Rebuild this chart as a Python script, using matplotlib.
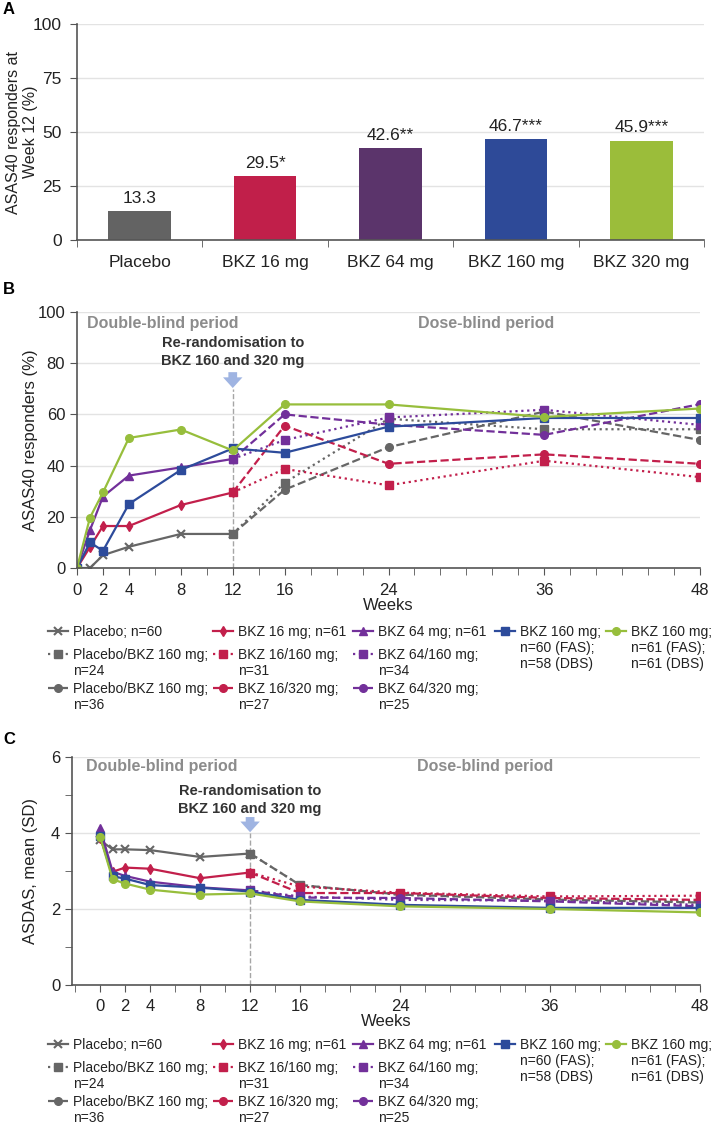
import numpy as np
import matplotlib
matplotlib.use("Agg")
from matplotlib import pyplot as plt

plt.rcParams['font.family'] = ['Liberation Sans', 'DejaVu Sans']

# ---- data ----
bar_groups = ['Placebo', 'BKZ 16 mg', 'BKZ 64 mg', 'BKZ 160 mg', 'BKZ 320 mg']
bar_values = [13.3, 29.5, 42.6, 46.7, 45.9]
bar_labels = ['13.3', '29.5*', '42.6**', '46.7***', '45.9***']

weeks_db = [0, 1, 2, 4, 8, 12]
weeks_all = [0, 1, 2, 4, 8, 12, 16, 24, 36, 48]
weeks_ext = [12, 16, 24, 36, 48]
week_ticks = [0, 2, 4, 8, 12, 16, 24, 36, 48]

# ASAS40 responders (%)
asas_pbo = [0, 0, 5.0, 8.3, 13.3, 13.3]
asas_pbo_160 = [13.3, 33.3, 58.3, 54.2, 54.2]
asas_pbo_320 = [13.3, 30.6, 47.2, 61.1, 50.0]
asas_16 = [0, 8.2, 16.4, 16.4, 24.6, 29.5]
asas_16_160 = [29.5, 38.7, 32.3, 41.9, 35.5]
asas_16_320 = [29.5, 55.6, 40.7, 44.4, 40.7]
asas_64 = [0, 14.8, 27.9, 36.1, 39.3, 42.6]
asas_64_160 = [42.6, 50.0, 58.8, 61.8, 55.9]
asas_64_320 = [42.6, 60.0, 56.0, 52.0, 64.0]
asas_160 = [0, 10.0, 6.7, 25.0, 38.3, 46.7, 45.0, 55.2, 58.6, 58.6]
asas_320 = [0, 19.7, 29.5, 50.8, 54.1, 45.9, 63.9, 63.9, 59.0, 62.3]

# ASDAS mean
asdas_pbo = [3.81, 3.57, 3.57, 3.55, 3.37, 3.46]
asdas_pbo_160 = [3.46, 2.63, 2.37, 2.27, 2.20]
asdas_pbo_320 = [3.46, 2.63, 2.38, 2.25, 2.17]
asdas_16 = [3.88, 2.98, 3.09, 3.06, 2.81, 2.96]
asdas_16_160 = [2.96, 2.59, 2.43, 2.33, 2.35]
asdas_16_320 = [2.96, 2.42, 2.42, 2.29, 2.24]
asdas_64 = [4.13, 2.98, 2.87, 2.72, 2.57, 2.49]
asdas_64_160 = [2.49, 2.33, 2.24, 2.22, 2.11]
asdas_64_320 = [2.49, 2.30, 2.29, 2.20, 2.07]
asdas_160 = [3.91, 2.86, 2.80, 2.63, 2.56, 2.46, 2.24, 2.11, 2.03, 2.03]
asdas_320 = [3.90, 2.78, 2.67, 2.51, 2.38, 2.41, 2.20, 2.07, 2.00, 1.91]

# legend entries, one list per legend column: (series key, lines of label)
legend_cols = [
    [('pbo', ['Placebo; n=60']), ('pbo160', ['Placebo/BKZ 160 mg;', 'n=24']),
     ('pbo320', ['Placebo/BKZ 160 mg;', 'n=36'])],
    [('b16', ['BKZ 16 mg; n=61']), ('b16_160', ['BKZ 16/160 mg;', 'n=31']),
     ('b16_320', ['BKZ 16/320 mg;', 'n=27'])],
    [('b64', ['BKZ 64 mg; n=61']), ('b64_160', ['BKZ 64/160 mg;', 'n=34']),
     ('b64_320', ['BKZ 64/320 mg;', 'n=25'])],
    [('b160', ['BKZ 160 mg;', 'n=60 (FAS);', 'n=58 (DBS)'])],
    [('b320', ['BKZ 160 mg;', 'n=61 (FAS);', 'n=61 (DBS)'])],
]

GRAY = '#666666'
RED = '#C21F4B'
PURPLE = '#72309A'
BLUE = '#2D4B9B'
GREEN = '#97BE3C'
bar_colors = ['#636363', '#C11F4A', '#5B346B', '#2E4A98', '#9BBD3A']
SPINE = '#555555'
GRID = '#E3E3E3'
TXT = '#222222'

W, H = 712, 1125
fig = plt.figure(figsize=(W / 100, H / 100), dpi=100)


def px_axes(left, top, right, bottom):
    return fig.add_axes([left / W, 1 - bottom / H, (right - left) / W, (bottom - top) / H])


def style_axes(ax):
    for s in ['top', 'right']:
        ax.spines[s].set_visible(False)
    for s in ['left', 'bottom']:
        ax.spines[s].set_color(SPINE)
        ax.spines[s].set_linewidth(1.2)
    ax.tick_params(which='both', direction='out', color=SPINE, labelsize=12, labelcolor=TXT)
    ax.yaxis.grid(True, color=GRID, lw=1)
    ax.set_axisbelow(True)


# ---- panel A ----
axA = px_axes(77, 24, 704, 240)
style_axes(axA)
xs = np.arange(len(bar_groups))
axA.bar(xs, bar_values, width=0.5, color=bar_colors, zorder=2)
for x, v, lab in zip(xs, bar_values, bar_labels):
    axA.text(x, v + 2.5, lab, ha='center', va='bottom', fontsize=12.5, color=TXT)
axA.set_xlim(-0.5, 4.5)
axA.set_ylim(0, 100)
axA.set_yticks([0, 25, 50, 75, 100])
axA.set_xticks(xs)
axA.set_xticklabels(bar_groups)
axA.set_xticks(np.arange(-0.5, 5, 1), minor=True)
axA.tick_params(axis='x', which='major', length=0, pad=11, labelsize=12.5)
axA.tick_params(axis='x', which='minor', length=5)
axA.tick_params(axis='y', length=5, labelsize=12.5, pad=6)
axA.set_ylabel('ASAS40 responders at\nWeek 12 (%)', fontsize=11.5, color=TXT)
axA.yaxis.set_label_coords(-0.062, 0.5)
fig.text(3 / W, 1 - 10 / H, 'A', fontsize=12, fontweight='bold', va='center')


def draw_series(ax, data):
    (pbo, pbo160, pbo320, b16, b16_160, b16_320, b64, b64_160, b64_320, b160, b320) = data
    kw = dict(lw=1.6, ms=5.5)
    h = {}
    h['pbo160'], = ax.plot(weeks_ext, pbo160, ls=':', marker='s', color=GRAY, **kw)
    h['pbo320'], = ax.plot(weeks_ext, pbo320, ls='--', marker='o', color=GRAY, **kw)
    h['b16_160'], = ax.plot(weeks_ext, b16_160, ls=':', marker='s', color=RED, **kw)
    h['b16_320'], = ax.plot(weeks_ext, b16_320, ls='--', marker='o', color=RED, **kw)
    h['b64_160'], = ax.plot(weeks_ext, b64_160, ls=':', marker='s', color=PURPLE, **kw)
    h['b64_320'], = ax.plot(weeks_ext, b64_320, ls='--', marker='o', color=PURPLE, **kw)
    h['pbo'], = ax.plot(weeks_db, pbo, ls='-', marker='x', mew=1.5, color=GRAY, lw=1.6, ms=6)
    h['b16'], = ax.plot(weeks_db, b16, ls='-', marker='d', color=RED, **kw)
    h['b64'], = ax.plot(weeks_db, b64, ls='-', marker='^', color=PURPLE, **kw)
    h['b160'], = ax.plot(weeks_all, b160, ls='-', marker='s', color=BLUE, **kw)
    h['b320'], = ax.plot(weeks_all, b320, ls='-', marker='o', color=GREEN, **kw)
    return h


def add_legend(h, base_px):
    col_x = [48, 213, 353, 495, 606]
    row_dy = [0, 23, 57]
    fs = 10
    text_off = (1.45 + 0.35) * fs * 100 / 72
    for x, col in zip(col_x, legend_cols):
        for (key, lines), dy in zip(col, row_dy):
            yc = base_px + dy
            fig.legend([h[key]], [lines[0]], loc='center left',
                       bbox_to_anchor=(x / W, 1 - yc / H), frameon=False, fontsize=fs,
                       handlelength=1.45, handletextpad=0.35, borderpad=0,
                       borderaxespad=0, labelcolor=TXT)
            for k, extra in enumerate(lines[1:], 1):
                fig.text((x + text_off) / W, 1 - (yc + 16 * k) / H, extra,
                         fontsize=fs, color=TXT, va='center', ha='left')


def period_text(ax, x_db, x_dose, y_top, x_rr, y_rr):
    ax.text(x_db, y_top, 'Double-blind period', color='#8C8C8C', fontweight='bold',
            fontsize=11.5, va='center', ha='left')
    ax.text(x_dose, y_top, 'Dose-blind period', color='#8C8C8C', fontweight='bold',
            fontsize=11.5, va='center', ha='center')
    ax.text(x_rr, y_rr, 'Re-randomisation to\nBKZ 160 and 320 mg', color='#333333',
            fontweight='bold', fontsize=10.5, va='center', ha='center', linespacing=1.35)


arrow_style = 'simple,head_width=1.0,head_length=0.55,tail_width=0.45'

# ---- panel B ----
axB = px_axes(77, 312, 700, 568)
style_axes(axB)
hB = draw_series(axB, (asas_pbo, asas_pbo_160, asas_pbo_320, asas_16, asas_16_160, asas_16_320,
                       asas_64, asas_64_160, asas_64_320, asas_160, asas_320))
axB.set_xlim(0, 48)
axB.set_ylim(0, 100)
axB.set_yticks(range(0, 101, 20))
axB.set_xticks(week_ticks)
axB.set_xticks(range(0, 49, 2), minor=True)
axB.tick_params(axis='x', which='both', length=5, pad=6)
axB.tick_params(axis='y', length=5)
axB.axvline(12, ymax=0.70, ls='--', color='#A6A6A6', lw=1, zorder=1)
axB.annotate('', xy=(12, 70.3), xytext=(12, 76.5),
             arrowprops=dict(arrowstyle=arrow_style, fc='#9FB4E2', ec='none',
                             mutation_scale=14, shrinkA=0, shrinkB=0))
period_text(axB, 0.8, 31.5, 95.7, 12.0, 84.4)
axB.set_xlabel('Weeks', fontsize=12, labelpad=0, color=TXT)
axB.set_ylabel('ASAS40 responders (%)', fontsize=12, color=TXT)
axB.yaxis.set_label_coords(-0.062, 0.5)
fig.text(3 / W, 1 - 289 / H, 'B', fontsize=12, fontweight='bold', va='center')
add_legend(hB, 632)

# ---- panel C ----
axC = px_axes(72, 757, 700, 985)
style_axes(axC)
hC = draw_series(axC, (asdas_pbo, asdas_pbo_160, asdas_pbo_320, asdas_16, asdas_16_160, asdas_16_320,
                       asdas_64, asdas_64_160, asdas_64_320, asdas_160, asdas_320))
axC.set_xlim(-2.25, 48)
axC.set_ylim(0, 6)
axC.set_yticks([0, 2, 4, 6])
axC.set_yticks([1, 3, 5], minor=True)
axC.set_xticks(week_ticks)
axC.set_xticks(range(-2, 49, 2), minor=True)
axC.tick_params(axis='x', which='both', length=5, pad=5)
axC.tick_params(axis='y', which='both', length=5)
axC.axvline(12, ymax=4.0 / 6, ls='--', color='#A6A6A6', lw=1, zorder=1)
axC.annotate('', xy=(12, 4.02), xytext=(12, 4.42),
             arrowprops=dict(arrowstyle=arrow_style, fc='#9FB4E2', ec='none',
                             mutation_scale=14, shrinkA=0, shrinkB=0))
period_text(axC, -1.1, 30.8, 5.74, 12.0, 4.87)
axC.set_xlabel('Weeks', fontsize=12, labelpad=0, color=TXT)
axC.set_ylabel('ASDAS, mean (SD)', fontsize=12, color=TXT)
axC.yaxis.set_label_coords(-0.054, 0.5)
fig.text(3 / W, 1 - 740 / H, 'C', fontsize=12, fontweight='bold', va='center')
add_legend(hC, 1045)

fig.savefig('out.png', dpi=100)
